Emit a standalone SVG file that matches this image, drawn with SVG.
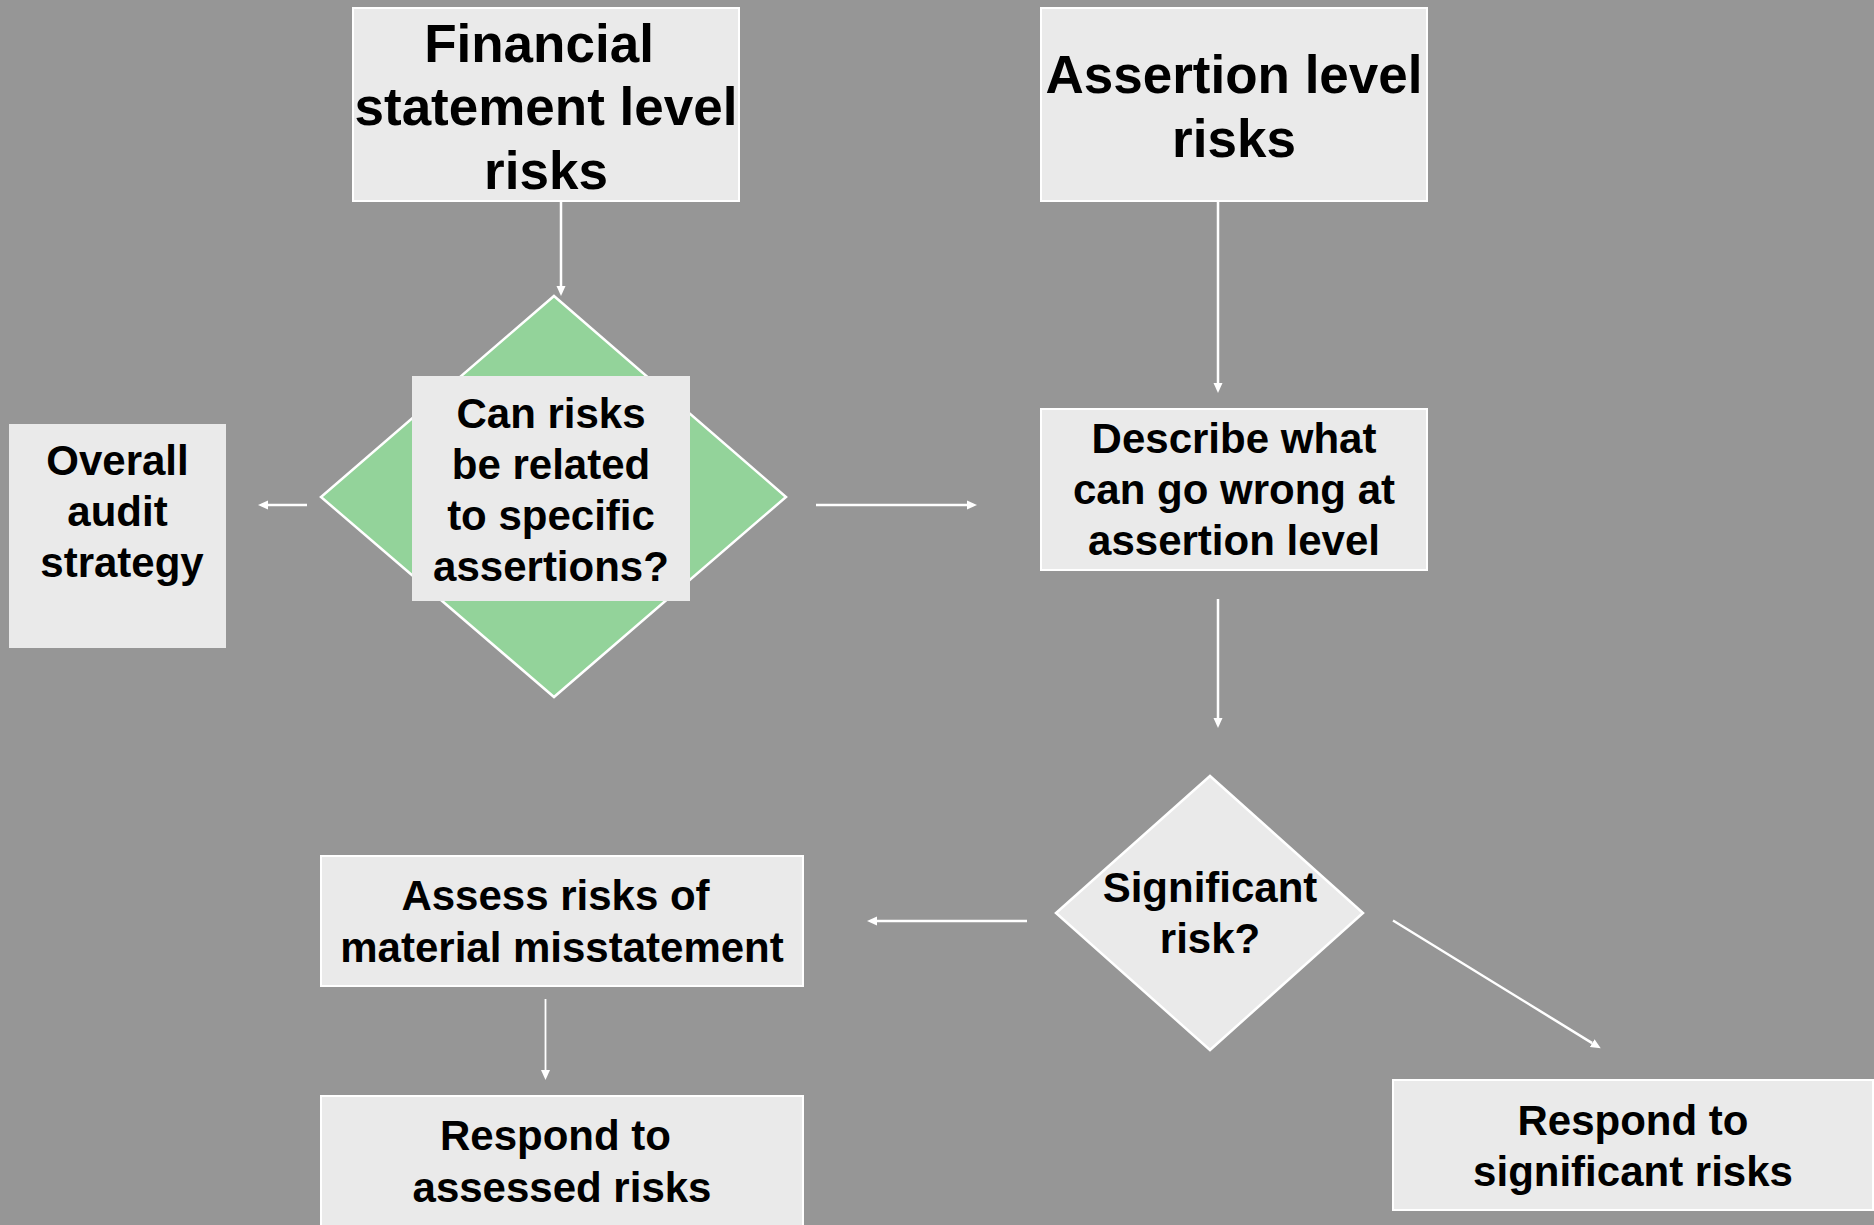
<svg xmlns="http://www.w3.org/2000/svg" width="1874" height="1225" viewBox="0 0 1874 1225">
  <style>
    .box { fill: #eaeaea; stroke: #ffffff; stroke-width: 2; }
    .plain { fill: #eaeaea; stroke: none; }
    .green { fill: #93d39a; stroke: #ffffff; stroke-width: 2.5; }
    .grey { fill: #eaeaea; stroke: #ffffff; stroke-width: 2.5; }
    .t53 { font-family: "Liberation Sans", Arial, sans-serif; font-weight: bold; font-size: 53px; fill: #000; text-anchor: middle; }
    .t42 { font-family: "Liberation Sans", Arial, sans-serif; font-weight: bold; font-size: 42px; fill: #000; text-anchor: middle; }
    .conn { stroke: #ffffff; stroke-width: 2.5; fill: none; marker-end: url(#head); }
  </style>
  <defs>
    <marker id="head" markerUnits="userSpaceOnUse" markerWidth="12" markerHeight="12" viewBox="0 -6 12 12" refX="0" refY="0" orient="auto">
      <path d="M0,-4.5 L10,0 L0,4.5 z" fill="#ffffff"/>
    </marker>
  </defs>

  <rect width="1874" height="1225" fill="#969696"/>

  <g id="connectors">
    <line class="conn" x1="561" y1="202" x2="561" y2="286"/>
    <line class="conn" x1="1218" y1="202" x2="1218" y2="383"/>
    <line class="conn" x1="1218" y1="599" x2="1218" y2="718"/>
    <line class="conn" x1="307" y1="505" x2="268" y2="505"/>
    <line class="conn" x1="816" y1="505" x2="967" y2="505"/>
    <line class="conn" x1="1027" y1="921" x2="877" y2="921"/>
    <line class="conn" x1="1393" y1="920.5" x2="1592.2" y2="1043.1"/>
    <line class="conn" x1="545.5" y1="999" x2="545.5" y2="1070" style="stroke-width:1.8"/>
  </g>

  <g id="financial-statement-risks">
    <rect class="box" x="353" y="8" width="386" height="193"/>
    <text class="t53" x="539" y="62">Financial</text>
    <text class="t53" x="546" y="125">statement level</text>
    <text class="t53" x="546" y="189">risks</text>
  </g>

  <g id="assertion-level-risks">
    <rect class="box" x="1041" y="8" width="386" height="193"/>
    <text class="t53" x="1234" y="93">Assertion level</text>
    <text class="t53" x="1234" y="157">risks</text>
  </g>

  <g id="related-to-assertions">
    <polygon class="green" points="554,296 786,497 554,697 321,497"/>
    <rect class="plain" x="412" y="376" width="278" height="225"/>
    <text class="t42" x="551" y="428">Can risks</text>
    <text class="t42" x="551" y="479">be related</text>
    <text class="t42" x="551" y="530">to specific</text>
    <text class="t42" x="551" y="581">assertions?</text>
  </g>

  <g id="overall-audit-strategy">
    <rect class="plain" x="9" y="424" width="217" height="224"/>
    <text class="t42" x="117.5" y="475">Overall</text>
    <text class="t42" x="117.5" y="526">audit</text>
    <text class="t42" x="122" y="577">strategy</text>
  </g>

  <g id="describe-what-can-go-wrong">
    <rect class="box" x="1041" y="409" width="386" height="161"/>
    <text class="t42" x="1234" y="453">Describe what</text>
    <text class="t42" x="1234" y="504">can go wrong at</text>
    <text class="t42" x="1234" y="555">assertion level</text>
  </g>

  <g id="significant-risk">
    <polygon class="grey" points="1210,776 1363,913 1210,1050 1056,913"/>
    <text class="t42" x="1210" y="902">Significant</text>
    <text class="t42" x="1210" y="953">risk?</text>
  </g>

  <g id="assess-risks">
    <rect class="box" x="321" y="856" width="482" height="130"/>
    <text class="t42" x="555.5" y="910">Assess risks of</text>
    <text class="t42" x="562" y="962">material misstatement</text>
  </g>

  <g id="respond-assessed-risks">
    <rect class="box" x="321" y="1096" width="482" height="140"/>
    <text class="t42" x="555.5" y="1150">Respond to</text>
    <text class="t42" x="562" y="1202">assessed risks</text>
  </g>

  <g id="respond-significant-risks">
    <rect class="box" x="1393" y="1080" width="480" height="130"/>
    <text class="t42" x="1633" y="1135">Respond to</text>
    <text class="t42" x="1633" y="1186">significant risks</text>
  </g>
</svg>
